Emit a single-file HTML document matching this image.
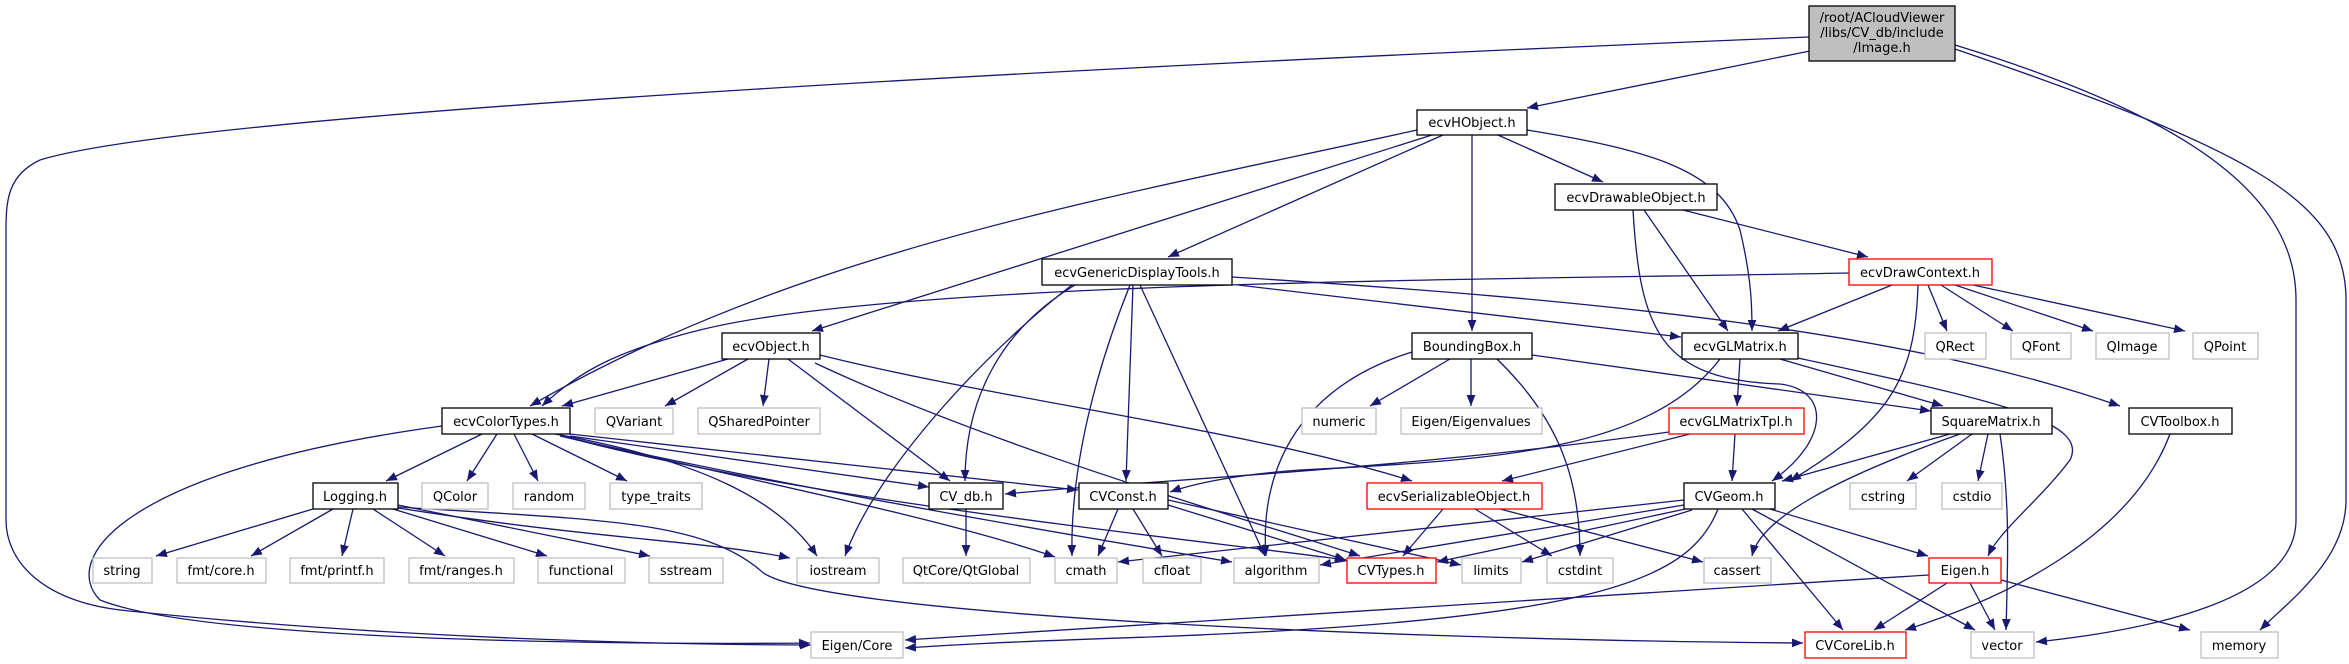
<!DOCTYPE html>
<html><head><meta charset="utf-8"><style>html,body{margin:0;padding:0;background:#fff;}svg{display:block}</style></head><body>
<svg width="2349" height="664" viewBox="0 0 2349 664" xmlns="http://www.w3.org/2000/svg" font-family="DejaVu Sans, Liberation Sans, sans-serif" font-size="13">
<defs><marker id="a" viewBox="0 0 10 10" refX="10" refY="5" markerWidth="11" markerHeight="11" markerUnits="userSpaceOnUse" orient="auto"><path d="M0,1 L10,5 L0,9 z" fill="#191970"/></marker></defs>
<g fill="none" stroke="#191970" stroke-width="1.3" marker-end="url(#a)">
<path d="M1810,51 L1527,108"/>
<path d="M1809,37 C1200,62 200,110 40,160 C8,175 6,200 6,230 L6,520 C6,560 40,600 120,610 C400,640 700,645 811,645"/>
<path d="M1955,45 C2200,120 2296,200 2296,300 L2296,520 C2296,600 2150,630 2036,642"/>
<path d="M1955,49 C2250,150 2346,200 2346,300 L2346,500 C2346,560 2290,600 2260,630"/>
<path d="M1417,130 C1100,200 800,250 530,406"/>
<path d="M1432,135 L812,331"/>
<path d="M1443,135 L1168,257"/>
<path d="M1472,135 L1472,331"/>
<path d="M1498,135 L1603,182"/>
<path d="M1527,130 C1650,150 1720,170 1740,230 C1752,280 1752,310 1752,331"/>
<path d="M1683,210 L1868,257"/>
<path d="M1644,210 L1728,331"/>
<path d="M1633,210 C1640,330 1660,380 1780,384 C1830,390 1830,440 1772,481"/>
<path d="M1849,273 C1500,280 900,280 700,330 C620,350 580,370 542,406"/>
<path d="M1892,285 L1778,331"/>
<path d="M1918,285 C1915,380 1890,420 1790,481"/>
<path d="M1928,285 L1947,331"/>
<path d="M1941,285 L2013,331"/>
<path d="M1955,285 L2093,331"/>
<path d="M1973,285 L2185,331"/>
<path d="M1232,277 C1600,300 1900,330 2120,406"/>
<path d="M1238,285 L1681,337"/>
<path d="M1075,285 C1000,330 965,400 965,481"/>
<path d="M1072,285 C1000,340 880,460 845,556"/>
<path d="M1130,285 C1100,360 1070,460 1072,556"/>
<path d="M1133,285 L1126,481"/>
<path d="M1140,285 L1265,556"/>
<path d="M728,359 L562,406"/>
<path d="M748,359 L665,406"/>
<path d="M769,359 L763,406"/>
<path d="M788,359 L950,481"/>
<path d="M815,363 C1000,450 1250,520 1360,556"/>
<path d="M820,355 C1000,400 1250,430 1412,481"/>
<path d="M1412,352 C1290,390 1260,480 1266,556"/>
<path d="M1450,359 L1370,406"/>
<path d="M1471,359 L1471,406"/>
<path d="M1497,359 C1560,420 1580,480 1580,556"/>
<path d="M1532,355 L1931,411"/>
<path d="M1740,359 L1737,406"/>
<path d="M1780,359 L1943,406"/>
<path d="M1798,358 C1990,400 2090,420 2070,460 C2040,500 2000,530 1988,556"/>
<path d="M1720,359 C1650,450 1500,460 1300,470 C1230,475 1190,485 1170,492"/>
<path d="M1669,432 C1400,470 1150,480 1005,494"/>
<path d="M1690,434 L1502,481"/>
<path d="M1735,434 L1732,481"/>
<path d="M1950,434 L1782,481"/>
<path d="M1960,434 C1830,480 1760,520 1752,556"/>
<path d="M1972,434 L1907,481"/>
<path d="M1988,434 L1978,481"/>
<path d="M2000,434 C2010,500 2008,560 2006,630"/>
<path d="M2170,434 C2130,540 2000,600 1905,630"/>
<path d="M482,434 L386,481"/>
<path d="M497,434 L467,481"/>
<path d="M514,434 L538,481"/>
<path d="M532,434 L627,481"/>
<path d="M555,434 C700,460 780,500 817,556"/>
<path d="M570,436 L929,487"/>
<path d="M570,434 L1078,490"/>
<path d="M560,436 C750,480 950,520 1055,557"/>
<path d="M570,438 C800,490 1100,540 1232,562"/>
<path d="M566,437 C800,500 1200,540 1346,560"/>
<path d="M442,426 C120,470 60,560 100,600 C200,640 600,645 810,643"/>
<path d="M313,509 L156,556"/>
<path d="M333,509 L251,556"/>
<path d="M353,509 L342,556"/>
<path d="M373,509 L445,556"/>
<path d="M393,509 L547,556"/>
<path d="M398,505 L650,556"/>
<path d="M398,508 C600,540 700,540 790,558"/>
<path d="M398,507 C600,520 700,520 760,570 C800,615 1400,640 1803,643"/>
<path d="M966,509 L966,556"/>
<path d="M1118,509 L1098,556"/>
<path d="M1133,509 L1162,556"/>
<path d="M1168,500 L1461,565"/>
<path d="M1168,505 L1346,560"/>
<path d="M1443,509 L1403,556"/>
<path d="M1475,509 L1552,556"/>
<path d="M1500,509 L1703,562"/>
<path d="M1684,500 L1118,562"/>
<path d="M1684,505 L1320,565"/>
<path d="M1690,508 L1437,562"/>
<path d="M1692,510 L1522,562"/>
<path d="M1718,509 C1690,580 1600,620 1150,637 C1000,642 950,645 905,648"/>
<path d="M1742,509 L1843,630"/>
<path d="M1752,509 L1975,630"/>
<path d="M1770,509 L1928,556"/>
<path d="M1929,575 L905,640"/>
<path d="M1947,583 L1874,630"/>
<path d="M1970,583 L1995,630"/>
<path d="M2001,580 L2190,630"/>
</g>
<g stroke-width="1.3" fill="#fff">
<rect x="1809" y="6" width="146" height="55" fill="#bfbfbf" stroke="#000"/>
<rect x="1417" y="110" width="110" height="25" stroke="#000"/>
<rect x="1555" y="184" width="162" height="26" stroke="#000"/>
<rect x="1849" y="259" width="143" height="26" stroke="#f00"/>
<rect x="1042" y="259" width="190" height="26" stroke="#000"/>
<rect x="722" y="333" width="98" height="26" stroke="#000"/>
<rect x="1412" y="333" width="120" height="26" stroke="#000"/>
<rect x="1682" y="333" width="116" height="26" stroke="#000"/>
<rect x="1925" y="333" width="61" height="26" stroke="#bfbfbf"/>
<rect x="2011" y="333" width="60" height="26" stroke="#bfbfbf"/>
<rect x="2096" y="333" width="73" height="26" stroke="#bfbfbf"/>
<rect x="2193" y="333" width="65" height="26" stroke="#bfbfbf"/>
<rect x="442" y="408" width="128" height="26" stroke="#000"/>
<rect x="595" y="408" width="78" height="26" stroke="#bfbfbf"/>
<rect x="698" y="408" width="122" height="26" stroke="#bfbfbf"/>
<rect x="1302" y="408" width="74" height="26" stroke="#bfbfbf"/>
<rect x="1401" y="408" width="141" height="26" stroke="#bfbfbf"/>
<rect x="1669" y="408" width="135" height="26" stroke="#f00"/>
<rect x="1931" y="408" width="121" height="26" stroke="#000"/>
<rect x="2129" y="408" width="103" height="26" stroke="#000"/>
<rect x="313" y="483" width="85" height="26" stroke="#000"/>
<rect x="422" y="483" width="66" height="26" stroke="#bfbfbf"/>
<rect x="513" y="483" width="72" height="26" stroke="#bfbfbf"/>
<rect x="610" y="483" width="92" height="26" stroke="#bfbfbf"/>
<rect x="929" y="483" width="74" height="26" stroke="#000"/>
<rect x="1079" y="483" width="89" height="26" stroke="#000"/>
<rect x="1367" y="483" width="175" height="26" stroke="#f00"/>
<rect x="1684" y="483" width="91" height="26" stroke="#000"/>
<rect x="1850" y="483" width="66" height="26" stroke="#bfbfbf"/>
<rect x="1942" y="483" width="60" height="26" stroke="#bfbfbf"/>
<rect x="93" y="558" width="59" height="25" stroke="#bfbfbf"/>
<rect x="177" y="558" width="89" height="25" stroke="#bfbfbf"/>
<rect x="290" y="558" width="94" height="25" stroke="#bfbfbf"/>
<rect x="409" y="558" width="105" height="25" stroke="#bfbfbf"/>
<rect x="538" y="558" width="87" height="25" stroke="#bfbfbf"/>
<rect x="649" y="558" width="74" height="25" stroke="#bfbfbf"/>
<rect x="797" y="558" width="82" height="25" stroke="#bfbfbf"/>
<rect x="903" y="558" width="127" height="25" stroke="#bfbfbf"/>
<rect x="1055" y="558" width="62" height="25" stroke="#bfbfbf"/>
<rect x="1143" y="558" width="58" height="25" stroke="#bfbfbf"/>
<rect x="1234" y="558" width="85" height="25" stroke="#bfbfbf"/>
<rect x="1347" y="558" width="89" height="25" stroke="#f00"/>
<rect x="1462" y="558" width="59" height="25" stroke="#bfbfbf"/>
<rect x="1547" y="558" width="66" height="25" stroke="#bfbfbf"/>
<rect x="1704" y="558" width="67" height="25" stroke="#bfbfbf"/>
<rect x="1929" y="558" width="72" height="25" stroke="#f00"/>
<rect x="811" y="632" width="92" height="26" stroke="#bfbfbf"/>
<rect x="1805" y="632" width="101" height="26" stroke="#f00"/>
<rect x="1971" y="632" width="63" height="26" stroke="#bfbfbf"/>
<rect x="2201" y="632" width="77" height="26" stroke="#bfbfbf"/>
</g>
<g fill="#000" text-anchor="middle">
<text x="1882" y="22">/root/ACloudViewer</text>
<text x="1882" y="37">/libs/CV_db/include</text>
<text x="1882" y="52">/Image.h</text>
<text x="1472" y="127">ecvHObject.h</text>
<text x="1636" y="202">ecvDrawableObject.h</text>
<text x="1920" y="277">ecvDrawContext.h</text>
<text x="1137" y="277">ecvGenericDisplayTools.h</text>
<text x="771" y="351">ecvObject.h</text>
<text x="1472" y="351">BoundingBox.h</text>
<text x="1740" y="351">ecvGLMatrix.h</text>
<text x="1955" y="351">QRect</text>
<text x="2041" y="351">QFont</text>
<text x="2132" y="351">QImage</text>
<text x="2225" y="351">QPoint</text>
<text x="506" y="426">ecvColorTypes.h</text>
<text x="634" y="426">QVariant</text>
<text x="759" y="426">QSharedPointer</text>
<text x="1339" y="426">numeric</text>
<text x="1471" y="426">Eigen/Eigenvalues</text>
<text x="1736" y="426">ecvGLMatrixTpl.h</text>
<text x="1991" y="426">SquareMatrix.h</text>
<text x="2180" y="426">CVToolbox.h</text>
<text x="355" y="501">Logging.h</text>
<text x="455" y="501">QColor</text>
<text x="549" y="501">random</text>
<text x="656" y="501">type_traits</text>
<text x="966" y="501">CV_db.h</text>
<text x="1123" y="501">CVConst.h</text>
<text x="1454" y="501">ecvSerializableObject.h</text>
<text x="1729" y="501">CVGeom.h</text>
<text x="1883" y="501">cstring</text>
<text x="1972" y="501">cstdio</text>
<text x="122" y="575">string</text>
<text x="221" y="575">fmt/core.h</text>
<text x="337" y="575">fmt/printf.h</text>
<text x="461" y="575">fmt/ranges.h</text>
<text x="581" y="575">functional</text>
<text x="686" y="575">sstream</text>
<text x="838" y="575">iostream</text>
<text x="966" y="575">QtCore/QtGlobal</text>
<text x="1086" y="575">cmath</text>
<text x="1172" y="575">cfloat</text>
<text x="1276" y="575">algorithm</text>
<text x="1391" y="575">CVTypes.h</text>
<text x="1491" y="575">limits</text>
<text x="1580" y="575">cstdint</text>
<text x="1737" y="575">cassert</text>
<text x="1965" y="575">Eigen.h</text>
<text x="857" y="650">Eigen/Core</text>
<text x="1855" y="650">CVCoreLib.h</text>
<text x="2002" y="650">vector</text>
<text x="2239" y="650">memory</text>
</g>
</svg>
</body></html>
